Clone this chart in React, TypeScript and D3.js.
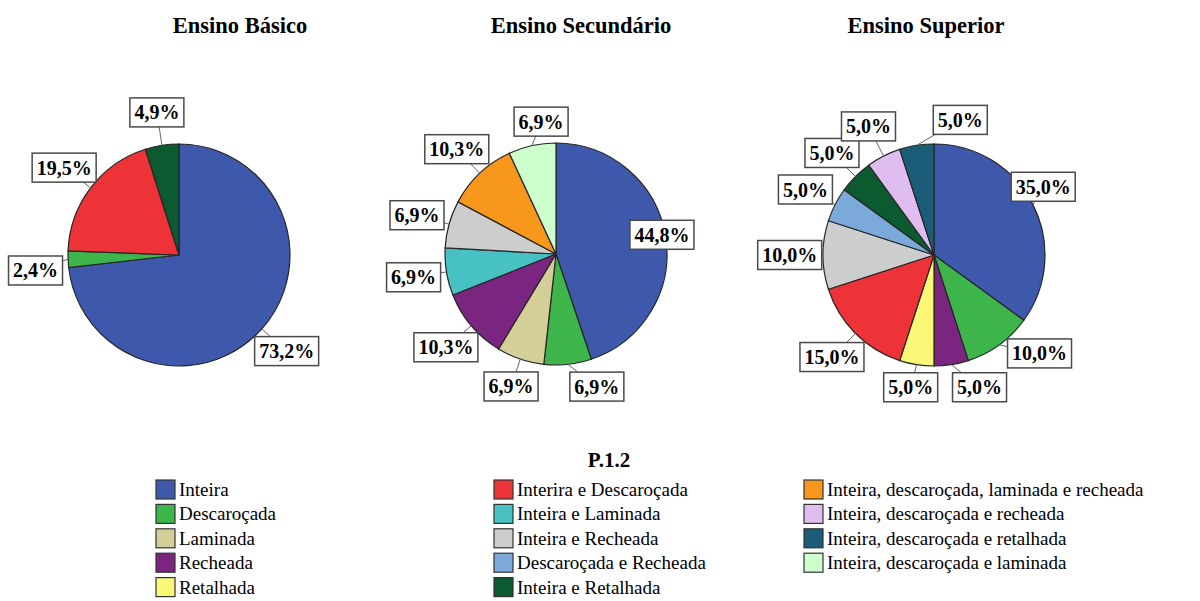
import { useEffect, useRef } from 'react'
import * as d3 from 'd3'

// categories (legend order) and their colours
const categories = [
  'Inteira',
  'Descaroçada',
  'Laminada',
  'Recheada',
  'Retalhada',
  'Interira e Descaroçada',
  'Inteira e Laminada',
  'Inteira e Recheada',
  'Descaroçada e Recheada',
  'Inteira e Retalhada',
  'Inteira, descaroçada, laminada e recheada',
  'Inteira, descaroçada e recheada',
  'Inteira, descaroçada e retalhada',
  'Inteira, descaroçada e laminada',
]
const colors = [
  '#3E58AC', '#3DB54A', '#D4CF98', '#7A2680', '#FBF877',
  '#EE3338', '#47C1C4', '#CDCDCD', '#7BAADA', '#0C5A30',
  '#F7981D', '#DFBDF0', '#1B5D78', '#CCFFCC',
]

const titles = ['Ensino Básico', 'Ensino Secundário', 'Ensino Superior']

// category index + percentage, in drawing order (clockwise from 12 o'clock)
const basicoCats = [0, 1, 5, 9]
const basicoVals = [73.2, 2.4, 19.5, 4.9]
const secundarioCats = [0, 1, 2, 3, 6, 7, 10, 13]
const secundarioVals = [44.8, 6.9, 6.9, 10.3, 6.9, 6.9, 10.3, 6.9]
const superiorCats = [0, 1, 3, 4, 5, 7, 8, 9, 11, 12]
const superiorVals = [35.0, 10.0, 5.0, 5.0, 15.0, 10.0, 5.0, 5.0, 5.0, 5.0]

const legendTitle = 'P.1.2'

export default function App() {
  const svgRef = useRef<SVGSVGElement>(null)

  useEffect(() => {
    if (!svgRef.current) return
    const svg = d3.select(svgRef.current)
    svg.selectAll('*').remove()

    const width = 1200
    const height = 601
    svg.attr('width', width).attr('height', height)
    svg.append('rect').attr('width', width).attr('height', height).attr('fill', '#fff')

    const serif = '"Liberation Serif", "Times New Roman", serif'
    const radius = 111
    const centers = [
      { x: 179, y: 255 },
      { x: 556, y: 254 },
      { x: 934, y: 255 },
    ]
    const titleX = [240, 581, 926]

    // label tweaks where the labels got pushed apart: [angle shift in deg, distance factor]
    const nudges: Record<number, [number, number]>[] = [
      { 1: [-4, 1.3] },
      { 0: [-1, 0.97], 1: [-11, 1.25], 2: [0, 1.26], 7: [6, 1.2] },
      { 0: [-5, 1.16], 1: [-11, 1.3], 2: [-10, 1.26], 3: [1, 1.21], 9: [20, 1.24] },
    ]

    const series = [
      { cats: basicoCats, vals: basicoVals },
      { cats: secundarioCats, vals: secundarioVals },
      { cats: superiorCats, vals: superiorVals },
    ]

    const pie = d3.pie<number>().sort(null).value(d => d)
    const arc = d3.arc<d3.PieArcDatum<number>>().innerRadius(0).outerRadius(radius)
    const fmt = (v: number) => v.toFixed(1).replace('.', ',') + '%'

    series.forEach((s, ci) => {
      const c = centers[ci]
      svg.append('text')
        .attr('x', titleX[ci])
        .attr('y', 33)
        .attr('text-anchor', 'middle')
        .style('font-family', serif)
        .style('font-weight', 'bold')
        .style('font-size', '22.5px')
        .text(titles[ci])

      const g = svg.append('g').attr('transform', `translate(${c.x},${c.y})`)
      const arcs = pie(s.vals)

      g.selectAll('path.slice')
        .data(arcs)
        .join('path')
        .attr('class', 'slice')
        .attr('d', arc)
        .attr('fill', (_, i) => colors[s.cats[i]])
        .attr('stroke', '#262626')
        .attr('stroke-width', 1.2)

      arcs.forEach((a, i) => {
        const mid = (a.startAngle + a.endAngle) / 2
        const nudge = nudges[ci][i] || [0, 1.3]
        const la = mid + (nudge[0] * Math.PI) / 180
        const ld = radius * nudge[1]
        const lx = Math.sin(la) * ld
        const ly = -Math.cos(la) * ld
        const ax = Math.sin(mid) * radius
        const ay = -Math.cos(mid) * radius

        g.append('line')
          .attr('x1', ax)
          .attr('y1', ay)
          .attr('x2', lx)
          .attr('y2', ly)
          .attr('stroke', '#666')
          .attr('stroke-width', 1)

        const lg = g.append('g')
        const t = lg.append('text')
          .attr('x', lx)
          .attr('y', ly)
          .attr('text-anchor', 'middle')
          .attr('dominant-baseline', 'central')
          .style('font-family', serif)
          .style('font-weight', 'bold')
          .style('font-size', '20px')
          .text(fmt(s.vals[i]))
        const bb = (t.node() as SVGTextElement).getBBox()
        lg.insert('rect', 'text')
          .attr('x', bb.x - 4.5)
          .attr('y', ly - 14.5)
          .attr('width', bb.width + 9)
          .attr('height', 29)
          .attr('fill', '#fff')
          .attr('stroke', '#4a4a4a')
          .attr('stroke-width', 1.5)
      })
    })

    // legend
    svg.append('text')
      .attr('x', 609)
      .attr('y', 467)
      .attr('text-anchor', 'middle')
      .style('font-family', serif)
      .style('font-weight', 'bold')
      .style('font-size', '21px')
      .text(legendTitle)

    const colX = [156, 494, 804]
    const rowsPerCol = [5, 5, 4]
    const rowY = d3.scaleLinear().domain([0, 1]).range([480, 504.4])
    let k = 0
    colX.forEach((x, col) => {
      for (let r = 0; r < rowsPerCol[col]; r++, k++) {
        const y = rowY(r)
        svg.append('rect')
          .attr('x', x)
          .attr('y', y)
          .attr('width', 19)
          .attr('height', 19)
          .attr('fill', colors[k])
          .attr('stroke', '#333')
          .attr('stroke-width', 1.2)
        svg.append('text')
          .attr('x', x + 23)
          .attr('y', y + 16)
          .style('font-family', serif)
          .style('font-size', '19px')
          .text(categories[k])
      }
    })
  }, [])

  return (
    <div style={{ position: 'absolute', left: 0, top: 0 }}>
      <svg ref={svgRef} style={{ display: 'block' }} />
    </div>
  )
}
